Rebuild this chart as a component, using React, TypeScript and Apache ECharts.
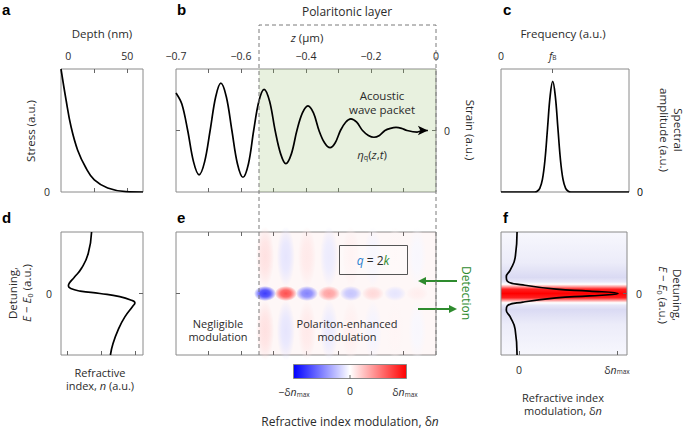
import React, { useEffect, useRef } from 'react';
import * as echarts from 'echarts';

// ---------- data ----------
// a: stress vs depth
const depthNm = [0, 3.8, 7.6, 12.6, 18.9, 25.2, 35.3, 49, 62];
const stress = [1, 0.75, 0.53, 0.34, 0.195, 0.098, 0.033, 0.003, 0];
const depthTickVals = [25, 50];

// b: acoustic wave packet, z (µm) vs strain
const zMicron = [-0.8, -0.782, -0.764, -0.746, -0.729, -0.712, -0.695, -0.678, -0.662, -0.645, -0.628, -0.611, -0.594, -0.577, -0.561, -0.545, -0.529, -0.512, -0.495, -0.478, -0.462, -0.445, -0.428, -0.411, -0.394, -0.377, -0.36, -0.343, -0.326, -0.31, -0.294, -0.278, -0.262, -0.244, -0.226, -0.208, -0.191, -0.174, -0.157, -0.14, -0.123, -0.106, -0.089, -0.058, -0.04, -0.025];
const strain = [0.61, 0.43, 0, -0.51, -0.72, -0.51, 0, 0.545, 0.77, 0.545, 0, -0.54, -0.76, -0.54, 0, 0.475, 0.67, 0.475, 0, -0.38, -0.54, -0.38, 0, 0.285, 0.4, 0.285, 0, -0.2, -0.28, -0.2, 0, 0.135, 0.19, 0.135, 0, -0.08, -0.11, -0.08, 0, 0.035, 0.05, 0.035, 0, -0.025, 0, 0];
const zTickVals = [-0.7, -0.6, -0.5, -0.4, -0.3, -0.2, -0.1];
const zLabelVals = [-0.8, -0.6, -0.4, -0.2, 0];
const zLabelText = ['−0.7', '−0.6', '−0.4', '−0.2', '0'];
const layerStart = -0.545;

// c: spectral amplitude
const freq = [0, 2.6, 2.8, 3.0, 3.2, 3.4, 3.6, 3.8, 4.0, 4.2, 4.4, 4.6, 4.8, 5.0, 5.2, 5.4, 9.9];
const spectral = [0, 0, 0.006, 0.03, 0.1, 0.26, 0.52, 0.78, 0.9, 0.78, 0.52, 0.26, 0.1, 0.03, 0.006, 0, 0];
const fB = 4;

// d: refractive index vs detuning
const indexN = [0.71, 0.61, 0.41, 0.19, 0.05, 0.02, 0.09, 0.37, 0.96, 1.55, 1.9, 2.0, 1.93, 1.7, 1.5, 1.35, 1.27];
const detuningD = [1.0, 0.65, 0.41, 0.26, 0.17, 0.12, 0.08, 0.04, 0.0, -0.05, -0.11, -0.15, -0.21, -0.38, -0.59, -0.81, -1.0];

// e: refractive index modulation blobs
const blobZ = [-0.526, -0.462, -0.397, -0.329, -0.262, -0.194, -0.126, -0.058];
const blobDn = [-0.95, 0.85, -0.6, 0.45, -0.28, 0.18, -0.12, 0.08];
const lobeDn = [0.14, -0.12, 0.1, -0.09, 0.07, -0.05, 0.04, -0.03];
const lobeY = 0.6;

// f: modulation vs detuning
const dnF = [-0.02, -0.04, -0.09, -0.13, -0.12, 0.04, 0.38, 0.72, 1.01, 0.72, 0.38, 0.04, -0.12, -0.13, -0.09, -0.04, -0.02];
const detuningF = [1.0, 0.58, 0.38, 0.27, 0.2, 0.14, 0.07, 0.04, 0.0, -0.04, -0.07, -0.14, -0.2, -0.27, -0.38, -0.58, -1.0];
const fBandStops: [number, string][] = [
  [0, '#f7f7fd'], [0.25, '#ececf9'], [0.37, '#dadaf3'], [0.405, '#e8e8f8'], [0.425, '#ffffff'],
  [0.44, '#ffb4b4'], [0.465, '#ff2020'], [0.5, '#ff0000'], [0.535, '#ff2020'], [0.56, '#ffb4b4'],
  [0.575, '#ffffff'], [0.595, '#e8e8f8'], [0.63, '#dadaf3'], [0.75, '#ececf9'], [1, '#f7f7fd'],
];

// ---------- styles ----------
const FONT = '"Open Sans", "Noto Sans", sans-serif';
const TXT = '#2b2b2b';
const GRAY = '#8a8a8a';
const GREEN = '#2e8b2e';
const ELLIPSE = 'path://M0 1C0 0.4477 0.4477 0 1 0C1.5523 0 2 0.4477 2 1C2 1.5523 1.5523 2 1 2C0.4477 2 0 1.5523 0 1Z';

const zip = (a: number[], b: number[]) => a.map((v, i) => [v, b[i]]);

function dnColor(v: number, alpha = 1) {
  const a = Math.min(1, Math.abs(v));
  const w = Math.round(255 * (1 - a));
  return v >= 0 ? `rgba(255,${w},${w},${alpha})` : `rgba(${w},${w},255,${alpha})`;
}
function blobFill(v: number) {
  return new echarts.graphic.RadialGradient(0.5, 0.5, 0.5, [
    { offset: 0, color: dnColor(v) },
    { offset: 0.45, color: dnColor(v * 0.85) },
    { offset: 1, color: dnColor(v, 0) },
  ]);
}

const axisRich = (size: number, color = TXT) => ({
  i: { fontSize: size, fontFamily: FONT, fontStyle: 'italic', color },
  n: { fontSize: size, fontFamily: FONT, color },
  s: { fontSize: size * 0.62, fontFamily: FONT, color, verticalAlign: 'bottom' },
});
const gRich = (size: number, color = TXT) => ({
  i: { fontSize: size, fontFamily: FONT, fontStyle: 'italic', fill: color },
  n: { fontSize: size, fontFamily: FONT, fill: color },
  s: { fontSize: size * 0.62, fontFamily: FONT, fill: color, verticalAlign: 'bottom' },
  q: { fontSize: size, fontFamily: FONT, fontStyle: 'italic', fill: '#2b7fd0' },
  k: { fontSize: size, fontFamily: FONT, fontStyle: 'italic', fill: GREEN },
});

function tick(values: number[]) {
  return { show: true, inside: true, length: 4, customValues: values, lineStyle: { color: '#666', width: 1 } };
}
function label(values: number[], formatter: any, margin: number, color = TXT) {
  return {
    show: true, customValues: values, formatter, margin, fontSize: 10.5, fontFamily: FONT, color,
    rich: axisRich(10.5, color),
  };
}
const zeroLabel = () => '{n|0}';
function axis(o: any) {
  return {
    type: 'value', splitLine: { show: false }, axisLine: { show: false, onZero: false },
    axisTick: { show: false }, axisLabel: { show: false }, axisPointer: { show: false }, ...o,
  };
}

function text(x: number, y: number, t: string, o: any = {}) {
  const size = o.size ?? 11.5;
  return {
    type: 'text', x, y, rotation: o.rotation ?? 0, z: 100,
    style: {
      text: t, fill: o.color ?? TXT, fontSize: size, fontFamily: o.font ?? FONT,
      fontWeight: o.weight ?? 'normal', align: o.align ?? 'center', verticalAlign: 'middle',
      lineHeight: o.lineHeight ?? size * 1.15, rich: gRich(size, o.color ?? TXT),
    },
  };
}

export default function App() {
  const ref = useRef<HTMLDivElement>(null);
  useEffect(() => {
    if (!ref.current) return;
    const chart = echarts.init(ref.current, undefined, { renderer: 'svg' });
    const gridBase = { show: true, borderColor: GRAY, borderWidth: 1, backgroundColor: 'transparent', containLabel: false };
    const fGrad = new echarts.graphic.LinearGradient(0, 0, 0, 1, fBandStops.map(([offset, color]) => ({ offset, color })));
    const lineStyle = { color: '#000', width: 1.7 };
    const black = { color: '#000' };
    const LETTER = '"Liberation Sans", Arial, sans-serif';

    const option: any = {
      animation: false,
      color: ['#000'],
      textStyle: { color: TXT, fontFamily: FONT },
      grid: [
        { ...gridBase, left: 61, top: 69, width: 82, height: 123 },
        { ...gridBase, left: 176, top: 69, width: 260, height: 123 },
        { ...gridBase, left: 501, top: 69, width: 128, height: 123 },
        { ...gridBase, left: 61, top: 232, width: 82, height: 123 },
        { ...gridBase, left: 176, top: 232, width: 260, height: 123 },
        { ...gridBase, left: 501, top: 232, width: 126, height: 123, backgroundColor: fGrad },
      ],
      xAxis: [
        axis({ gridIndex: 0, position: 'top', min: 0, max: 62, axisTick: tick(depthTickVals),
          axisLabel: label([5.5, 50], (v: number) => (v < 10 ? '{n|0}' : '{n|50}'), 8) }),
        axis({ gridIndex: 0, position: 'bottom', min: 0, max: 62, axisTick: tick(depthTickVals) }),
        axis({ gridIndex: 1, position: 'top', min: -0.8, max: 0, axisTick: tick(zTickVals),
          axisLabel: label(zLabelVals, (v: number) => {
            const i = zLabelVals.findIndex((z) => Math.abs(z - v) < 1e-6);
            return i >= 0 ? `{n|${zLabelText[i]}}` : '';
          }, 8) }),
        axis({ gridIndex: 1, position: 'bottom', min: -0.8, max: 0, axisTick: tick(zTickVals) }),
        axis({ gridIndex: 2, position: 'top', min: 0, max: 9.9, axisTick: tick([fB]),
          axisLabel: label([0, fB], (v: number) => (v === 0 ? '{n|0}' : '{i|f}{s|B}'), 8) }),
        axis({ gridIndex: 3, position: 'bottom', min: -0.2, max: 2.24, axisTick: tick([0, 1, 2]) }),
        axis({ gridIndex: 4, position: 'top', min: -0.8, max: 0, axisTick: tick(zTickVals) }),
        axis({ gridIndex: 4, position: 'bottom', min: -0.8, max: 0, axisTick: tick(zTickVals) }),
        axis({ gridIndex: 5, position: 'bottom', min: -0.184, max: 1.102, axisTick: tick([0, 1]),
          axisLabel: label([0, 1], (v: number) => (v === 0 ? '{n|0}' : '{n|δ}{i|n}{s|max}'), 9) }),
      ],
      yAxis: [
        axis({ gridIndex: 0, position: 'left', min: 0, max: 1, axisLabel: label([0], zeroLabel, 11) }),
        axis({ gridIndex: 1, position: 'left', min: -1, max: 1, axisTick: tick([0]) }),
        axis({ gridIndex: 1, position: 'right', min: -1, max: 1, axisTick: tick([0]),
          axisLabel: label([0], zeroLabel, 8) }),
        axis({ gridIndex: 2, position: 'right', min: 0, max: 1, axisLabel: label([0], zeroLabel, 8, '#000000') }),
        axis({ gridIndex: 3, position: 'left', min: -1, max: 1, axisLabel: label([0], zeroLabel, 9) }),
        axis({ gridIndex: 3, position: 'right', min: -1, max: 1, axisTick: tick([0]) }),
        axis({ gridIndex: 4, position: 'left', min: -1, max: 1, axisTick: tick([0]) }),
        axis({ gridIndex: 5, position: 'right', min: -1, max: 1, axisTick: tick([0]),
          axisLabel: label([0], zeroLabel, 9) }),
      ],
      series: [
        { type: 'line', xAxisIndex: 0, yAxisIndex: 0, data: zip(depthNm, stress), smooth: 0.4,
          symbol: 'none', lineStyle, itemStyle: black },
        { type: 'line', xAxisIndex: 2, yAxisIndex: 1, smooth: 0.35, symbol: 'none', showSymbol: true, lineStyle,
          itemStyle: black,
          data: zMicron.map((z, i) => (i === zMicron.length - 1
            ? { value: [z, strain[i]], symbol: 'arrow', symbolSize: [7, 10], symbolRotate: -90, itemStyle: black }
            : [z, strain[i]])),
          markArea: { silent: true, label: { show: false }, itemStyle: { color: 'rgba(150,190,110,0.22)' },
            data: [[{ xAxis: layerStart }, { xAxis: 0 }]] } },
        { type: 'line', xAxisIndex: 4, yAxisIndex: 3, data: zip(freq, spectral), smooth: 0.4,
          symbol: 'none', lineStyle, itemStyle: black },
        { type: 'line', xAxisIndex: 5, yAxisIndex: 4, data: zip(indexN, detuningD), smooth: 0.5,
          symbol: 'none', lineStyle, itemStyle: black },
        { type: 'scatter', xAxisIndex: 6, yAxisIndex: 6, symbol: ELLIPSE, symbolSize: [18, 60], silent: true,
          data: blobZ.flatMap((z, i) => [
            { value: [z, lobeY], itemStyle: { color: blobFill(lobeDn[i]) } },
            { value: [z, -lobeY], itemStyle: { color: blobFill(lobeDn[i]) } },
          ]),
          markArea: { silent: true, label: { show: false }, itemStyle: { color: 'rgba(240,90,90,0.05)' },
            data: [[{ xAxis: layerStart }, { xAxis: 0 }]] } },
        { type: 'scatter', xAxisIndex: 6, yAxisIndex: 6, symbol: ELLIPSE, symbolSize: [22, 15], silent: true,
          data: blobZ.map((z, i) => ({ value: [z, 0], itemStyle: { color: blobFill(blobDn[i]) } })) },
        { type: 'line', xAxisIndex: 8, yAxisIndex: 7, data: zip(dnF, detuningF), smooth: 0.5,
          symbol: 'none', lineStyle, itemStyle: black },
      ],
      graphic: [
        // panel letters
        text(2, 9, 'a', { size: 15, weight: 'bold', align: 'left', font: LETTER, color: '#000' }),
        text(177, 9, 'b', { size: 15, weight: 'bold', align: 'left', font: LETTER, color: '#000' }),
        text(503, 9, 'c', { size: 15, weight: 'bold', align: 'left', font: LETTER, color: '#000' }),
        text(2, 217, 'd', { size: 15, weight: 'bold', align: 'left', font: LETTER, color: '#000' }),
        text(177, 217, 'e', { size: 15, weight: 'bold', align: 'left', font: LETTER, color: '#000' }),
        text(503, 217, 'f', { size: 15, weight: 'bold', align: 'left', font: LETTER, color: '#000' }),
        // a
        text(102, 33, 'Depth (nm)'),
        text(30, 131, 'Stress (a.u.)', { rotation: Math.PI / 2 }),
        // b
        text(347, 11, 'Polaritonic layer', { size: 12 }),
        text(307, 37, '{i|z} (µm)'),
        text(382, 102, 'Acoustic\nwave packet', { lineHeight: 14 }),
        text(372, 154, '{i|η}{s|q}({i|z},{i|t})'),
        text(470, 130, 'Strain (a.u.)', { rotation: -Math.PI / 2 }),
        // c
        text(563, 33, 'Frequency (a.u.)'),
        text(671, 130, 'Spectral\namplitude (a.u.)', { rotation: -Math.PI / 2, lineHeight: 14 }),
        // d
        text(19, 293, 'Detuning,\n{i|E} − {i|E}{s|0} (a.u.)', { rotation: Math.PI / 2, lineHeight: 14 }),
        text(100, 379, 'Refractive\nindex, {i|n} (a.u.)', { size: 11, lineHeight: 13.5 }),
        // e
        text(218, 330, 'Negligible\nmodulation', { size: 11, lineHeight: 13.5 }),
        text(347, 330, 'Polariton-enhanced\nmodulation', { size: 11, lineHeight: 13.5 }),
        { type: 'rect', z: 100, shape: { x: 339.5, y: 245.5, width: 68, height: 29 },
          style: { fill: 'rgba(255,255,255,0.3)', stroke: '#555', lineWidth: 1 } },
        text(373, 260, '{q|q} = 2{k|k}', { size: 12 }),
        // detection arrows
        { type: 'line', z: 100, shape: { x1: 457, y1: 281, x2: 424, y2: 281 }, style: { stroke: GREEN, lineWidth: 2 } },
        { type: 'polygon', z: 100, shape: { points: [[418, 281], [426, 277], [426, 285]] }, style: { fill: GREEN } },
        { type: 'line', z: 100, shape: { x1: 418, y1: 309, x2: 451, y2: 309 }, style: { stroke: GREEN, lineWidth: 2 } },
        { type: 'polygon', z: 100, shape: { points: [[457, 309], [449, 305], [449, 313]] }, style: { fill: GREEN } },
        text(466, 293, 'Detection', { rotation: -Math.PI / 2, color: GREEN, size: 12 }),
        // colorbar
        { type: 'rect', z: 100, shape: { x: 293.5, y: 364.5, width: 113, height: 14 },
          style: { stroke: '#888', lineWidth: 1,
            fill: new echarts.graphic.LinearGradient(0, 0, 1, 0, [
              { offset: 0, color: '#0000ff' }, { offset: 0.5, color: '#ffffff' }, { offset: 1, color: '#ff0000' }]) } },
        { type: 'line', z: 101, shape: { x1: 350, y1: 375, x2: 350, y2: 378.5 }, style: { stroke: '#666', lineWidth: 1 } },
        text(294, 392, '−δ{i|n}{s|max}', { size: 10.5 }),
        text(350, 391, '0', { size: 10.5 }),
        text(405, 392, 'δ{i|n}{s|max}', { size: 10.5 }),
        text(350, 421, 'Refractive index modulation, δ{i|n}', { size: 12 }),
        // f
        text(670, 295, 'Detuning,\n{i|E} − {i|E}{s|0} (a.u.)', { rotation: -Math.PI / 2, lineHeight: 14 }),
        text(563, 404, 'Refractive index\nmodulation, δ{i|n}', { size: 11, lineHeight: 13.5 }),
        // polaritonic layer dashed frame
        { type: 'polyline', z: 110, shape: { points: [[259, 355], [259, 25], [436, 25], [436, 355]] },
          style: { stroke: '#7a7a7a', lineWidth: 1, lineDash: [4, 3], fill: null } },
      ],
    };
    chart.setOption(option);
    return () => chart.dispose();
  }, []);
  return <div ref={ref} style={{ position: 'absolute', left: 0, top: 0, width: 685, height: 429 }} />;
}
